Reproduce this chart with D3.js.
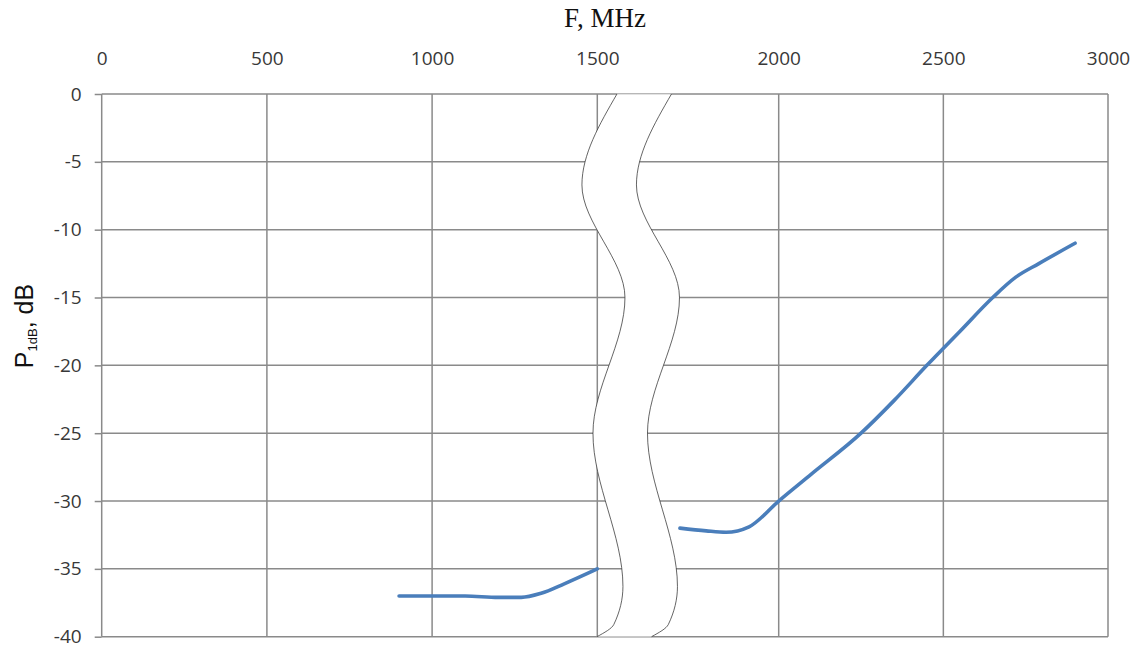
<!DOCTYPE html>
<html>
<head>
<meta charset="utf-8">
<script src="https://cdn.jsdelivr.net/npm/d3@7"></script>
<style>
  html, body { margin: 0; padding: 0; background: #fff; }
  svg { display: block; }
</style>
</head>
<body>
<svg id="chart" width="1141" height="648"></svg>
<script>
// Frequency ticks on each side of the axis break
const xTicksLow = [0, 500, 1000, 1500];
const xTicksHigh = [2000, 2500, 3000];
const yTicks = [0, -5, -10, -15, -20, -25, -30, -35, -40];

// P1dB measured below the break (MHz, dB)
const lowFreq = [900, 1000, 1100, 1200, 1270, 1330, 1400, 1500];
const lowP1dB = [-37, -37, -37, -37.1, -37.1, -36.8, -36.1, -35];

// P1dB measured above the break (MHz, dB)
const highFreq = [1700, 1780, 1840, 1910, 2000, 2100, 2250, 2350, 2450, 2550, 2650, 2720, 2790, 2900];
const highP1dB = [-32, -32.2, -32.3, -31.9, -30, -28, -25, -22.6, -20, -17.5, -15, -13.5, -12.5, -11];

// Wavy break outline: turning points in low-side frequency units and dB
const breakFreq = [1559.5, 1453.5, 1583.7, 1486.9, 1577.6, 1550, 1499];
const breakDb = [0, -6.7, -15, -25, -36.3, -39.1, -40];
const breakWidth = 165; // MHz on the low-side scale

const svg = d3.select("#chart");

const xLow = d3.scaleLinear().domain([0, 1500]).range([101.7, 597.3]);
const xHigh = d3.scaleLinear().domain([2000, 3000]).range([778.7, 1108]);
const y = d3.scaleLinear().domain([0, -40]).range([94, 636.7]);

const gridColor = "#8a8a8a";
const labelFont = "'Open Sans', sans-serif";
const labelColor = "#383838";
const plainNumber = d => String(d);
const plotLeft = xLow(0), plotRight = xHigh(3000), plotTop = y(0), plotBottom = y(-40);

// Grid
const grid = svg.append("g").attr("stroke", gridColor).attr("stroke-width", 1.5);
grid.selectAll("line.h").data(yTicks).join("line")
  .attr("class", "h")
  .attr("x1", plotLeft).attr("x2", plotRight)
  .attr("y1", d => y(d)).attr("y2", d => y(d));
grid.selectAll("line.vl").data(xTicksLow).join("line")
  .attr("class", "vl")
  .attr("x1", d => xLow(d)).attr("x2", d => xLow(d))
  .attr("y1", plotTop).attr("y2", plotBottom);
grid.selectAll("line.vh").data(xTicksHigh).join("line")
  .attr("class", "vh")
  .attr("x1", d => xHigh(d)).attr("x2", d => xHigh(d))
  .attr("y1", plotTop).attr("y2", plotBottom);

// Y axis ticks and labels
const yAxis = d3.axisLeft(y).tickValues(yTicks).tickFormat(plainNumber).tickSize(7).tickPadding(13);
const gy = svg.append("g").attr("transform", `translate(${plotLeft},0)`).call(yAxis);
gy.select(".domain").remove();
gy.selectAll(".tick line").attr("stroke", gridColor).attr("stroke-width", 1.5);
gy.selectAll(".tick text")
  .attr("font-family", labelFont)
  .attr("font-size", 19)
  .attr("fill", labelColor);

// Top frequency labels
function topAxis(scale, ticks) {
  const ax = d3.axisTop(scale).tickValues(ticks).tickFormat(plainNumber).tickSize(0).tickPadding(0);
  const g = svg.append("g").attr("transform", `translate(0,${plotTop - 29})`).call(ax);
  g.select(".domain").remove();
  g.selectAll(".tick text")
    .attr("font-family", labelFont)
    .attr("font-size", 19)
    .attr("fill", labelColor);
}
topAxis(xLow, xTicksLow);
topAxis(xHigh, xTicksHigh);

// Data curves
const lineLow = d3.line()
  .x(i => xLow(lowFreq[i])).y(i => y(lowP1dB[i]))
  .curve(d3.curveMonotoneX);
const lineHigh = d3.line()
  .x(i => xHigh(highFreq[i])).y(i => y(highP1dB[i]))
  .curve(d3.curveMonotoneX);

const curveStyle = sel => sel
  .attr("fill", "none")
  .attr("stroke", "#4a7ebb")
  .attr("stroke-width", 3.6)
  .attr("stroke-linecap", "round")
  .attr("stroke-linejoin", "round");

svg.append("path").attr("d", lineLow(d3.range(lowFreq.length))).call(curveStyle);
svg.append("path").attr("d", lineHigh(d3.range(highFreq.length))).call(curveStyle);

// Axis break band
const edge = offset => d3.range(breakFreq.length).map(i => [xLow(breakFreq[i] + offset), y(breakDb[i])]);
const leftEdge = edge(0);
const rightEdge = edge(breakWidth);
const edgeLine = d3.line().curve(d3.curveMonotoneY);

// white band between the two edges
const bandPath = edgeLine(leftEdge) + "L" + edgeLine(rightEdge.slice().reverse()).slice(1) + "Z";
svg.append("path").attr("d", bandPath).attr("fill", "#fff").attr("stroke", "none");
// faint frame segments across the band
svg.append("line")
  .attr("x1", leftEdge[0][0]).attr("x2", rightEdge[0][0])
  .attr("y1", plotTop).attr("y2", plotTop)
  .attr("stroke", "#c8c8c8").attr("stroke-width", 1.2);
svg.append("line")
  .attr("x1", leftEdge[leftEdge.length - 1][0]).attr("x2", rightEdge[rightEdge.length - 1][0])
  .attr("y1", plotBottom).attr("y2", plotBottom)
  .attr("stroke", "#c8c8c8").attr("stroke-width", 1.2);
[leftEdge, rightEdge].forEach(pts => {
  svg.append("path").attr("d", edgeLine(pts))
    .attr("fill", "none").attr("stroke", "#222").attr("stroke-width", 0.7);
});

// Axis titles
svg.append("text")
  .attr("x", 605).attr("y", 27)
  .attr("text-anchor", "middle")
  .attr("font-family", "'Liberation Serif', 'Times New Roman', serif")
  .attr("font-size", 27)
  .attr("fill", "#111")
  .text("F, MHz");

const yTitle = svg.append("text")
  .attr("transform", "translate(33,326) rotate(-90)")
  .attr("text-anchor", "middle")
  .attr("font-family", "'Liberation Sans', Arial, sans-serif")
  .attr("font-size", 25)
  .attr("fill", "#111");
yTitle.append("tspan").text("P");
yTitle.append("tspan").attr("font-size", 13).attr("dy", 4).text("1dB");
yTitle.append("tspan").attr("dy", -4).text(", dB");
</script>
</body>
</html>
